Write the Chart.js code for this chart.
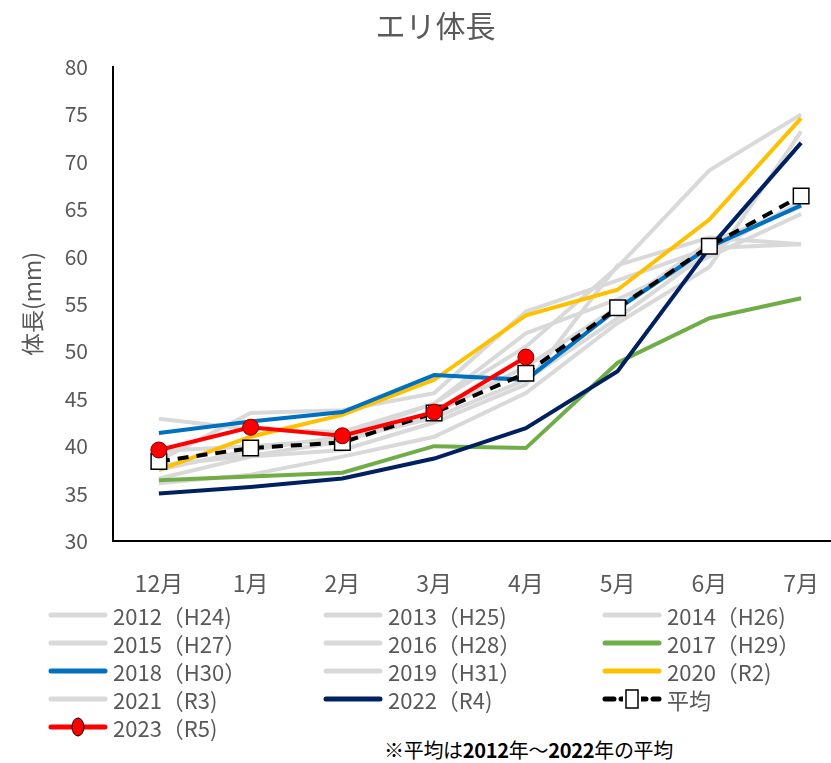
<!DOCTYPE html>
<html>
<head>
<meta charset="utf-8">
<script src="https://cdn.jsdelivr.net/npm/chart.js@4"></script>
<style>
    body { margin: 0; background: #fff; }
    #wrap { position: relative; width: 831px; height: 763px; overflow: hidden; }
    #chart { position: absolute; left: 0; top: 0; }
    .item { position: absolute; height: 26px; display: flex; align-items: center; }
    .item canvas { display: block; }
    .item span {
        margin-left: 5px; font-size: 22px; color: #595959;
        font-family: "Noto Sans CJK JP", sans-serif;
        white-space: nowrap; line-height: 26px;
    }
    #note {
        position: absolute; left: 384px; top: 736px; font-size: 20px; color: #000;
        font-family: "Noto Sans CJK JP", sans-serif; line-height: 28px; white-space: nowrap;
        letter-spacing: -0.3px;
    }
    #note b { font-weight: bold; }
</style>
</head>
<body>
<div id="wrap">
    <canvas id="chart" width="860" height="600"></canvas>
    <div id="legend"></div>
    <div id="note">※平均は<b>2012</b>年～<b>2022</b>年の平均</div>
</div>
<script>
const months = ['12月', '1月', '2月', '3月', '4月', '5月', '6月', '7月'];

// 体長 (mm)
const y2012 = [42.9, 41.8, 41.5, 44.5, 50.5, 58.9, 69.1, 75.0];
const y2013 = [38.5, 43.5, 43.8, 45.6, 54.2, 57.5, 60.9, 61.3];
const y2014 = [36.1, 37.0, 38.9, 41.0, 45.6, 53.0, 58.9, 73.2];
const y2015 = [38.0, 39.0, 40.5, 43.5, 48.4, 54.7, 61.5, 65.3];
const y2016 = [36.6, 38.9, 39.6, 42.5, 46.5, 59.1, 62.0, 61.3];
const y2017 = [36.4, 36.8, 37.2, 40.0, 39.8, 48.8, 53.5, 55.6];
const y2018 = [41.4, 42.6, 43.6, 47.5, 47.0, 54.5, 61.0, 65.4];
const y2019 = [37.5, 39.6, 41.0, 44.5, 51.9, 55.5, 60.0, 64.5];
const y2020 = [37.5, 41.0, 43.3, 47.0, 53.8, 56.5, 63.9, 74.6];
const y2021 = [39.5, 40.0, 40.7, 43.0, 47.0, 53.5, 60.5, 65.8];
const y2022 = [35.0, 35.7, 36.6, 38.7, 41.9, 47.9, 60.9, 72.0];
const average = [38.4, 39.8, 40.4, 43.5, 47.7, 54.6, 61.1, 66.4];
const y2023 = [39.6, 42.0, 41.1, 43.6, 49.4];

const yTicks = { min: 30, max: 80, step: 5 };

const GRAY = '#d9d9d9';
const TEXT = '#595959';
const FONT = '"Noto Sans CJK JP", sans-serif';

function line(label, data, color, order) {
    return {
        label: label,
        data: data,
        borderColor: color,
        backgroundColor: color,
        borderWidth: 4,
        pointRadius: 0,
        tension: 0,
        order: order
    };
}

const datasets = [
    line('2012（H24)', y2012, GRAY, 5),
    line('2013（H25)', y2013, GRAY, 5),
    line('2014（H26)', y2014, GRAY, 5),
    line('2015（H27）', y2015, GRAY, 5),
    line('2016（H28）', y2016, GRAY, 5),
    line('2017（H29）', y2017, '#70ad47', 4),
    line('2018（H30）', y2018, '#0070c0', 3),
    line('2019（H31）', y2019, GRAY, 5),
    line('2020（R2)', y2020, '#ffc000', 3),
    line('2021（R3)', y2021, GRAY, 5),
    line('2022（R4)', y2022, '#002060', 2),
    {
        label: '平均',
        data: average,
        borderColor: '#000',
        borderWidth: 4,
        borderDash: [11, 8],
        pointStyle: 'rect',
        pointRadius: 11,
        pointBackgroundColor: '#fff',
        pointBorderColor: '#000',
        pointBorderWidth: 1.5,
        tension: 0,
        order: 1
    },
    {
        label: '2023（R5)',
        data: y2023,
        borderColor: '#ff0000',
        borderWidth: 4,
        pointStyle: 'circle',
        pointRadius: 8,
        pointBackgroundColor: '#ff0000',
        pointBorderColor: '#7a0000',
        pointBorderWidth: 1,
        tension: 0,
        order: 0
    }
];

new Chart(document.getElementById('chart'), {
    type: 'line',
    data: { labels: months, datasets: datasets },
    options: {
        responsive: false,
        animation: false,
        devicePixelRatio: 1,
        layout: { padding: { left: 24, right: 13, top: 0, bottom: 0 } },
        plugins: {
            legend: { display: false },
            tooltip: { enabled: false },
            title: {
                display: true,
                text: 'エリ体長',
                color: TEXT,
                font: { size: 30, family: FONT, weight: 'normal' },
                padding: { top: 8, bottom: 23 }
            }
        },
        scales: {
            x: {
                offset: true,
                grid: { display: false, drawTicks: false },
                border: { display: true, color: '#000', width: 2 },
                ticks: { color: TEXT, font: { size: 23, family: FONT }, padding: 28 },
                afterFit: function (scale) { scale.height = 59; }
            },
            y: {
                min: yTicks.min,
                max: yTicks.max,
                grid: { display: false, drawTicks: false },
                border: { display: true, color: '#000', width: 2 },
                ticks: { stepSize: yTicks.step, color: TEXT, font: { size: 21, family: FONT }, padding: 25 },
                title: {
                    display: true,
                    text: '体長(mm)',
                    color: TEXT,
                    font: { size: 23, family: FONT },
                    padding: { top: -6 }
                },
                afterFit: function (scale) { scale.width = 89; }
            }
        }
    }
});

// legend, three columns like the original
const colX = [48, 323, 602];
const legend = document.getElementById('legend');

datasets.forEach(function (ds, i) {
    const item = document.createElement('div');
    item.className = 'item';
    item.style.left = colX[i % 3] + 'px';
    item.style.top = (602 + Math.floor(i / 3) * 28) + 'px';

    const sw = document.createElement('canvas');
    sw.width = 60;
    sw.height = 26;
    const c = sw.getContext('2d');
    c.strokeStyle = ds.borderColor;
    c.lineWidth = 5;
    c.lineCap = 'round';
    if (ds.borderDash) c.setLineDash([9, 7]);
    c.beginPath();
    c.moveTo(3, 13);
    c.lineTo(57, 13);
    c.stroke();
    c.setLineDash([]);
    if (ds.pointStyle === 'rect') {
        c.clearRect(21, 2, 18, 22);
        c.fillStyle = '#fff';
        c.lineWidth = 1.5;
        c.fillRect(24, 4, 12, 18);
        c.strokeRect(24, 4, 12, 18);
    } else if (ds.pointStyle === 'circle') {
        c.fillStyle = ds.pointBackgroundColor;
        c.strokeStyle = '#000';
        c.lineWidth = 1;
        c.beginPath();
        c.ellipse(30, 13, 6, 9, 0, 0, Math.PI * 2);
        c.fill();
        c.stroke();
    }
    item.appendChild(sw);

    const t = document.createElement('span');
    t.textContent = ds.label;
    item.appendChild(t);
    legend.appendChild(item);
});
</script>
</body>
</html>
